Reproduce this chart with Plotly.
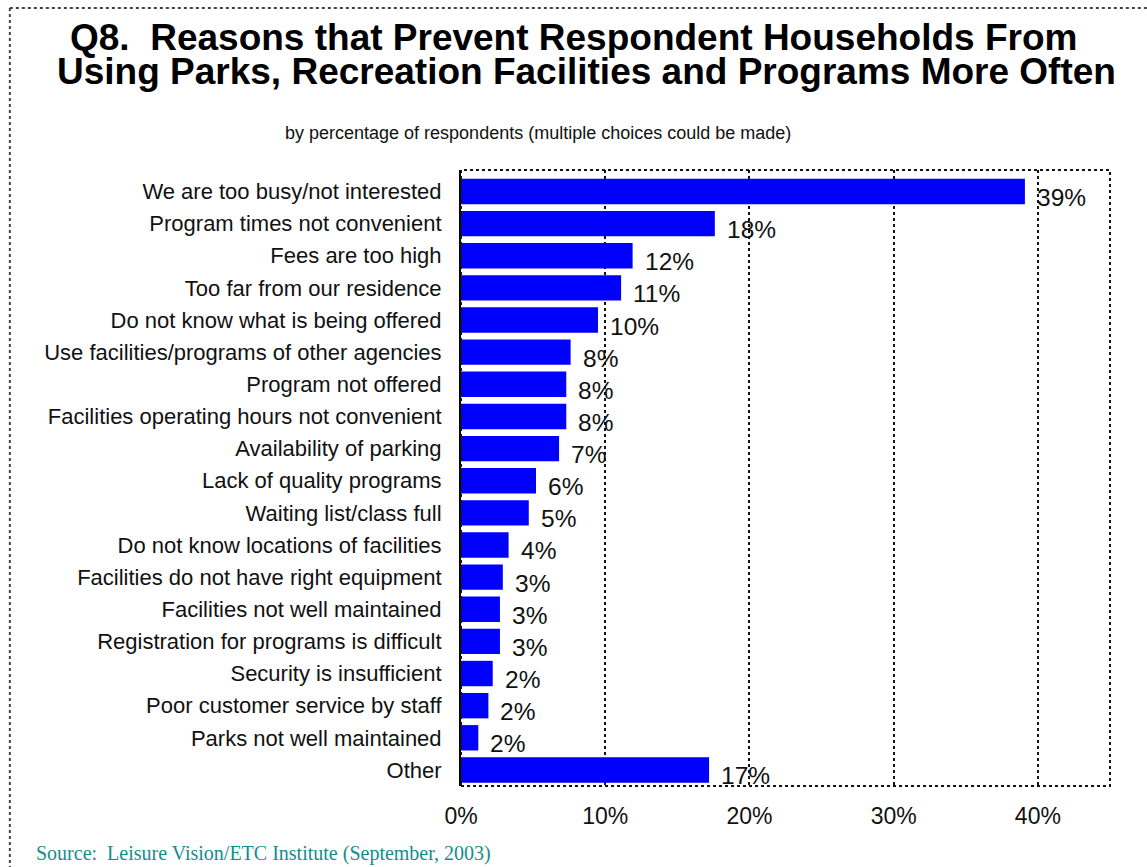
import plotly.graph_objects as go

categories = [
    "We are too busy/not interested",
    "Program times not convenient",
    "Fees are too high",
    "Too far from our residence",
    "Do not know what is being offered",
    "Use facilities/programs of other agencies",
    "Program not offered",
    "Facilities operating hours not convenient",
    "Availability of parking",
    "Lack of quality programs",
    "Waiting list/class full",
    "Do not know locations of facilities",
    "Facilities do not have right equipment",
    "Facilities not well maintained",
    "Registration for programs is difficult",
    "Security is insufficient",
    "Poor customer service by staff",
    "Parks not well maintained",
    "Other",
]
values = [39.1, 17.6, 11.9, 11.1, 9.5, 7.6, 7.3, 7.3, 6.8, 5.2, 4.7, 3.3,
          2.9, 2.7, 2.7, 2.2, 1.9, 1.2, 17.2]
value_labels = ["39%", "18%", "12%", "11%", "10%", "8%", "8%", "8%", "7%", "6%",
                "5%", "4%", "3%", "3%", "3%", "2%", "2%", "2%", "17%"]
x_ticks = [0, 10, 20, 30, 40]
x_tick_text = ["0%", "10%", "20%", "30%", "40%"]

W, H = 1147, 867
L, R, T, B = 460.5, 37, 170, 81
pw, ph = W - L - R, H - T - B

def px(xp):
    return (xp - L) / pw

def py(yp):
    return (H - B - yp) / ph

fig = go.Figure()
fig.add_trace(go.Bar(
    x=values, y=categories, orientation="h",
    marker=dict(color="#0000FF", line=dict(width=0)),
    hoverinfo="skip",
))

for c, v, t in zip(categories, values, value_labels):
    fig.add_annotation(x=v, y=c, text=t, showarrow=False, xanchor="left",
                       yanchor="middle", xshift=10, yshift=-6,
                       font=dict(family="Liberation Sans, Arial", size=24.5, color="#111111"))

# plot-area dotted frame
fig.add_shape(type="rect", xref="paper", yref="paper", x0=0, x1=1, y0=0, y1=1,
              line=dict(color="#111111", width=2, dash="dot"), layer="above")
# outer dotted border (left and top)
fig.add_shape(type="line", xref="paper", yref="paper", x0=px(9), x1=px(9),
              y0=py(8), y1=py(880), line=dict(color="#444444", width=2, dash="dot"))
fig.add_shape(type="line", xref="paper", yref="paper", x0=px(9), x1=px(1160),
              y0=py(8), y1=py(8), line=dict(color="#444444", width=2, dash="dot"))

fig.add_annotation(xref="paper", yref="paper", x=px(573.5), y=py(37), showarrow=False,
                   text="<b>Q8.  Reasons that Prevent Respondent Households From</b>",
                   xanchor="center", yanchor="middle",
                   font=dict(family="Liberation Sans, Arial", size=37, color="#000000"))
fig.add_annotation(xref="paper", yref="paper", x=px(586), y=py(72), showarrow=False,
                   text="<b>Using Parks, Recreation Facilities and Programs More Often</b>",
                   xanchor="center", yanchor="middle",
                   font=dict(family="Liberation Sans, Arial", size=37, color="#000000"))
fig.add_annotation(xref="paper", yref="paper", x=px(538), y=py(133), showarrow=False,
                   text="by percentage of respondents (multiple choices could be made)",
                   xanchor="center", yanchor="middle",
                   font=dict(family="Liberation Sans, Arial", size=18, color="#111111"))
fig.add_annotation(xref="paper", yref="paper", x=px(33), y=py(853), showarrow=False,
                   text="Source:  Leisure Vision/ETC Institute (September, 2003)",
                   xanchor="left", yanchor="middle",
                   font=dict(family="Liberation Serif, Times New Roman", size=20, color="#138D8D"))

fig.update_layout(
    width=W, height=H,
    margin=dict(l=L, r=R, t=T, b=B, pad=0),
    paper_bgcolor="white", plot_bgcolor="white",
    showlegend=False, bargap=0.21,
    font=dict(family="Liberation Sans, Arial", color="#111111"),
)
fig.update_xaxes(range=[0, 45], tickvals=x_ticks, ticktext=x_tick_text,
                 showgrid=True, gridcolor="#111111", gridwidth=2, griddash="dot",
                 zeroline=False, showline=False, ticks="", ticklabelstandoff=14,
                 tickfont=dict(size=23, color="#111111"), fixedrange=True)
fig.update_yaxes(categoryorder="array", categoryarray=categories, autorange="reversed",
                 showline=True, linecolor="#000000", linewidth=2, showgrid=False,
                 ticks="", ticklabelstandoff=13,
                 tickfont=dict(size=22, color="#111111"), fixedrange=True)

fig.write_html("out.html", config={"displayModeBar": False},
               post_script="document.body.style.margin='0';document.body.style.overflow='hidden';")
